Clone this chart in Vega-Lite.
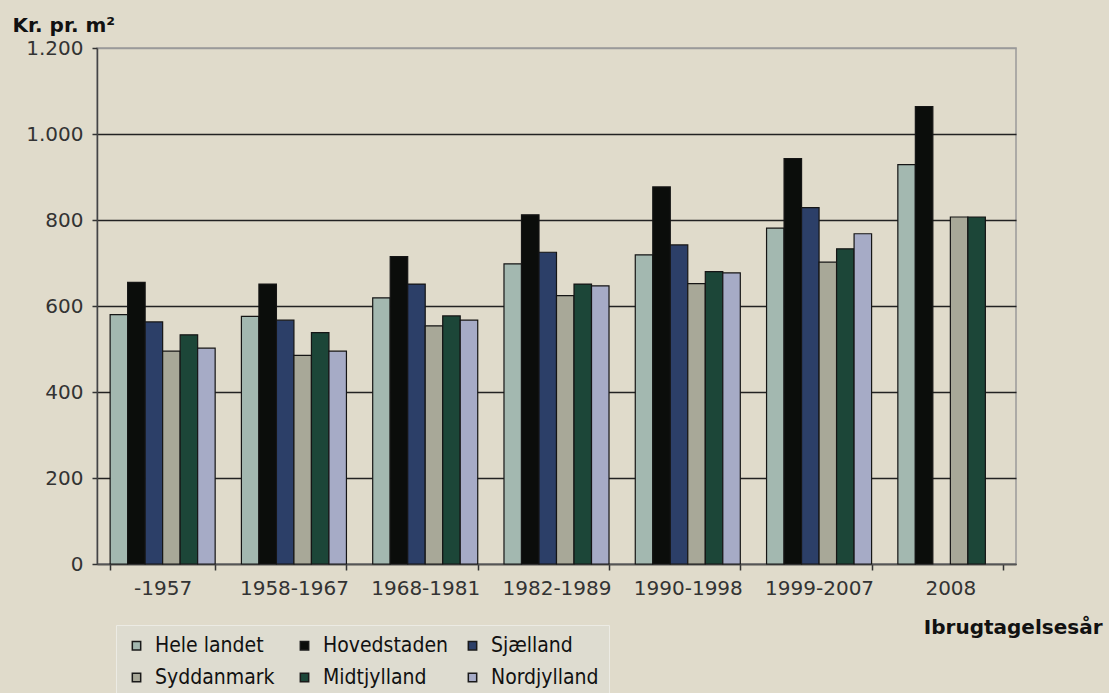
{
  "$schema": "https://vega.github.io/schema/vega-lite/v6.json",
  "width": 919,
  "height": 516,
  "autosize": {"type": "none"},
  "padding": {"left": 97, "top": 48, "right": 93, "bottom": 129},
  "background": "#e0dbcb",
  "config": {
    "view": {"stroke": "#9a9a9a", "strokeWidth": 1.5},
    "font": "DejaVu Sans"
  },
  "data": {
    "values": [
      {"periode": "-1957", "region": "Hele landet", "kr": 580},
      {"periode": "-1957", "region": "Hovedstaden", "kr": 655},
      {"periode": "-1957", "region": "Sjælland", "kr": 563},
      {"periode": "-1957", "region": "Syddanmark", "kr": 495},
      {"periode": "-1957", "region": "Midtjylland", "kr": 533},
      {"periode": "-1957", "region": "Nordjylland", "kr": 502},
      {"periode": "1958-1967", "region": "Hele landet", "kr": 576},
      {"periode": "1958-1967", "region": "Hovedstaden", "kr": 651},
      {"periode": "1958-1967", "region": "Sjælland", "kr": 567},
      {"periode": "1958-1967", "region": "Syddanmark", "kr": 485},
      {"periode": "1958-1967", "region": "Midtjylland", "kr": 538},
      {"periode": "1958-1967", "region": "Nordjylland", "kr": 495},
      {"periode": "1968-1981", "region": "Hele landet", "kr": 619},
      {"periode": "1968-1981", "region": "Hovedstaden", "kr": 715},
      {"periode": "1968-1981", "region": "Sjælland", "kr": 651},
      {"periode": "1968-1981", "region": "Syddanmark", "kr": 554},
      {"periode": "1968-1981", "region": "Midtjylland", "kr": 577},
      {"periode": "1968-1981", "region": "Nordjylland", "kr": 567},
      {"periode": "1982-1989", "region": "Hele landet", "kr": 698},
      {"periode": "1982-1989", "region": "Hovedstaden", "kr": 812},
      {"periode": "1982-1989", "region": "Sjælland", "kr": 725},
      {"periode": "1982-1989", "region": "Syddanmark", "kr": 624},
      {"periode": "1982-1989", "region": "Midtjylland", "kr": 651},
      {"periode": "1982-1989", "region": "Nordjylland", "kr": 647},
      {"periode": "1990-1998", "region": "Hele landet", "kr": 719},
      {"periode": "1990-1998", "region": "Hovedstaden", "kr": 877},
      {"periode": "1990-1998", "region": "Sjælland", "kr": 742},
      {"periode": "1990-1998", "region": "Syddanmark", "kr": 652},
      {"periode": "1990-1998", "region": "Midtjylland", "kr": 680},
      {"periode": "1990-1998", "region": "Nordjylland", "kr": 677},
      {"periode": "1999-2007", "region": "Hele landet", "kr": 781},
      {"periode": "1999-2007", "region": "Hovedstaden", "kr": 943},
      {"periode": "1999-2007", "region": "Sjælland", "kr": 829},
      {"periode": "1999-2007", "region": "Syddanmark", "kr": 702},
      {"periode": "1999-2007", "region": "Midtjylland", "kr": 733},
      {"periode": "1999-2007", "region": "Nordjylland", "kr": 768},
      {"periode": "2008", "region": "Hele landet", "kr": 929},
      {"periode": "2008", "region": "Hovedstaden", "kr": 1064},
      {"periode": "2008", "region": "Syddanmark", "kr": 807},
      {"periode": "2008", "region": "Midtjylland", "kr": 807}
    ]
  },
  "mark": {"type": "bar", "stroke": "#151515", "strokeWidth": 1.2},
  "encoding": {
    "x": {
      "field": "periode",
      "type": "nominal",
      "sort": null,
      "scale": {"paddingInner": 0.2, "paddingOuter": 0.1},
      "axis": {
        "title": "Ibrugtagelsesår",
        "titleFont": "DejaVu Sans",
        "titleFontSize": 20,
        "titleFontWeight": "bold",
        "titleColor": "#111",
        "titleAlign": "right",
        "titleAnchor": null,
        "titleBaseline": "alphabetic",
        "titleX": 1005,
        "titleY": 69,
        "labelAngle": 0,
        "labelFontSize": 20,
        "labelColor": "#333",
        "labelPadding": 8,
        "tickBand": "extent",
        "tickSize": 6,
        "tickColor": "#333",
        "tickWidth": 1.5,
        "domainColor": "#555",
        "domainWidth": 1.5
      }
    },
    "xOffset": {
      "field": "region",
      "type": "nominal",
      "sort": ["Hele landet", "Hovedstaden", "Sjælland", "Syddanmark", "Midtjylland", "Nordjylland"],
      "scale": {"paddingInner": 0, "paddingOuter": 0}
    },
    "y": {
      "field": "kr",
      "type": "quantitative",
      "scale": {"domain": [0, 1200], "nice": false},
      "axis": {
        "values": [0, 200, 400, 600, 800, 1000, 1200],
        "labelExpr": "replace(format(datum.value, ','), ',', '.')",
        "title": "Kr. pr. m²",
        "titleFont": "DejaVu Sans",
        "titleFontSize": 20,
        "titleFontWeight": "bold",
        "titleColor": "#111",
        "titleAngle": 0,
        "titleAlign": "left",
        "titleAnchor": null,
        "titleBaseline": "alphabetic",
        "titleX": -85,
        "titleY": -17,
        "labelFontSize": 20,
        "labelColor": "#333",
        "labelPadding": 9,
        "tickSize": 5,
        "tickColor": "#333",
        "tickWidth": 1.5,
        "domainColor": "#444",
        "domainWidth": 1.5,
        "grid": true,
        "gridColor": {"condition": {"test": "datum.value == 1200", "value": "#9a9a9a"}, "value": "#222"},
        "gridWidth": 1.5
      }
    },
    "color": {
      "field": "region",
      "type": "nominal",
      "sort": ["Hele landet", "Hovedstaden", "Sjælland", "Syddanmark", "Midtjylland", "Nordjylland"],
      "scale": {
        "domain": ["Hele landet", "Hovedstaden", "Sjælland", "Syddanmark", "Midtjylland", "Nordjylland"],
        "range": ["#a3b8b0", "#0b0d0b", "#2c3f68", "#a8a898", "#1c4638", "#a6abc6"]
      },
      "legend": {
        "title": null,
        "orient": "none",
        "legendX": 19,
        "legendY": 577,
        "direction": "horizontal",
        "columns": 3,
        "gridAlign": "all",
        "columnPadding": 14,
        "rowPadding": 10,
        "padding": 10,
        "fillColor": "#dedcd0",
        "strokeColor": "#ecebe4",
        "symbolType": "square",
        "symbolSize": 70,
        "symbolStrokeColor": "#1a1a1a",
        "symbolStrokeWidth": 1.5,
        "symbolOpacity": 1,
        "labelFont": "DejaVu Sans Condensed",
        "labelFontSize": 21,
        "labelColor": "#111",
        "labelOffset": 8,
        "labelLimit": 300
      }
    }
  }
}
